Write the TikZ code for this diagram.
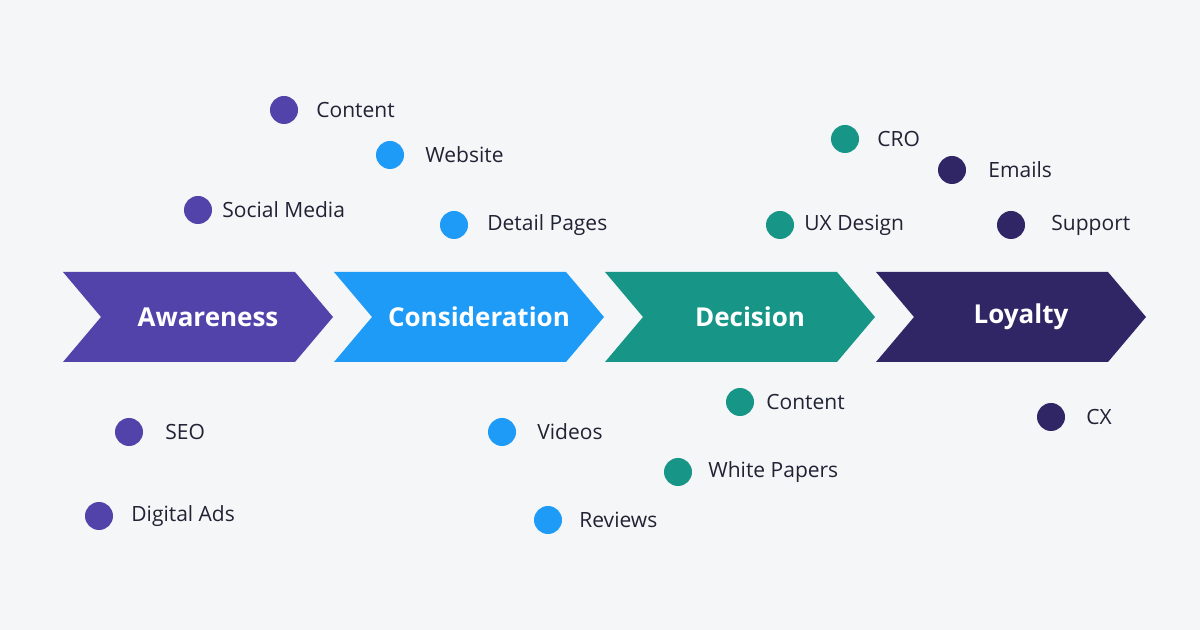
\documentclass[tikz,border=0pt]{standalone}
\usepackage{fontspec}
\setmainfont{Open Sans}
\definecolor{bg}{HTML}{F5F6F8}
\definecolor{cp}{HTML}{5243AA}
\definecolor{cb}{HTML}{1E9BF7}
\definecolor{ct}{HTML}{179688}
\definecolor{cn}{HTML}{302565}
\definecolor{tx}{HTML}{1F2333}
\tikzset{
  dot/.style={circle,fill=#1,minimum size=14pt,inner sep=0pt},
  lbl/.style={anchor=west,text=tx,font=\fontsize{10.5}{12}\selectfont,inner sep=0pt},
  stage/.style={text=white,font=\bfseries\fontsize{13}{15}\selectfont}
}
\newcommand{\chev}[2]{%
  \fill[#2] (#1,272) -- ++(232,0) -- ++(38,45) -- ++(-38,45) -- ++(-232,0) -- ++(38,-45) -- cycle;
}
\newcommand{\tagitem}[6]{%
  \node[dot=#4] (#1) at (#2,#3) {};
  \node[lbl] (#1t) at (#5,#3) {#6};
}
\begin{document}
\begin{tikzpicture}[x=0.5pt,y=-0.5pt]
\fill[bg] (0,0) rectangle (1200,630);
\useasboundingbox (0,0) rectangle (1200,630);
\chev{63}{cp}
\chev{334}{cb}
\chev{605}{ct}
\chev{876}{cn}
\node[stage] (aw) at (208,317) {Awareness};
\node[stage] (co) at (479,317) {Consideration};
\node[stage] (de) at (750,317) {Decision};
\node[stage] (lo) at (1021,317) {Loyalty};
\tagitem{a}{284}{110}{cp}{316}{Content}
\tagitem{b}{390}{155}{cb}{425}{Website}
\tagitem{c}{198}{210}{cp}{222}{Social Media}
\tagitem{d}{454}{225}{cb}{487}{Detail Pages}
\tagitem{e}{845}{139}{ct}{877}{CRO}
\tagitem{f}{952}{170}{cn}{988}{Emails}
\tagitem{g}{780}{225}{ct}{804}{UX Design}
\tagitem{h}{1011}{225}{cn}{1051}{Support}
\tagitem{i}{129}{432}{cp}{165}{SEO}
\tagitem{j}{99}{516}{cp}{131}{Digital Ads}
\tagitem{k}{502}{432}{cb}{537}{Videos}
\tagitem{l}{548}{520}{cb}{579}{Reviews}
\tagitem{m}{740}{402}{ct}{766}{Content}
\tagitem{n}{678}{472}{ct}{708}{White Papers}
\tagitem{o}{1051}{417}{cn}{1086}{CX}
\end{tikzpicture}
\end{document}
